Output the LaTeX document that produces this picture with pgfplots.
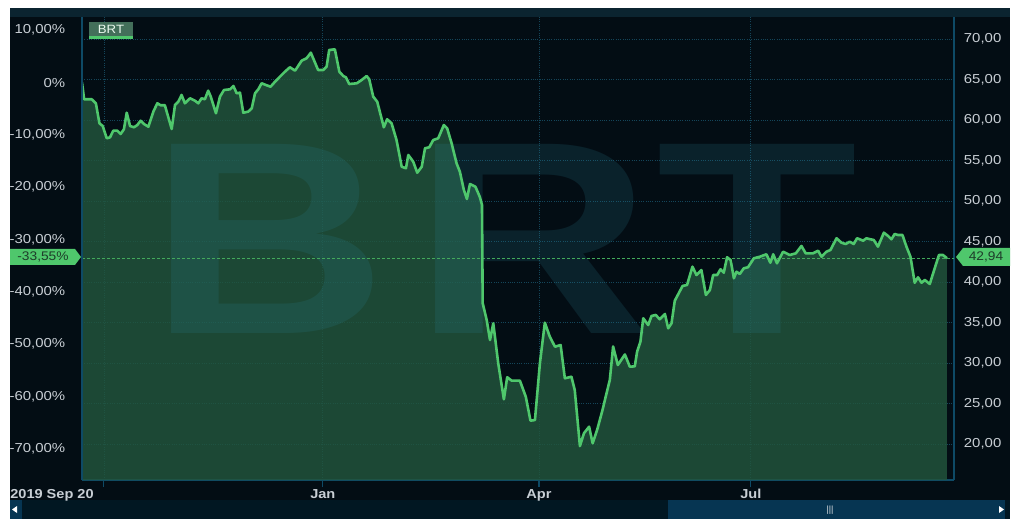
\documentclass[border=0pt]{standalone}
\usepackage{pgfplots}
\pgfplotsset{compat=1.18}
\usepackage{pgfplotstable}
\usepackage{fontspec}
\setmainfont{Liberation Sans}
\definecolor{bg}{HTML}{030D14}
\definecolor{topband}{HTML}{0B2430}
\definecolor{frame}{HTML}{0E4A66}
\definecolor{gridc}{HTML}{14465A}
\definecolor{lbl}{HTML}{C8CED4}
\definecolor{fillg}{HTML}{22563D}
\definecolor{lineg}{HTML}{4FC76C}
\definecolor{wm}{HTML}{2A8296}
\definecolor{scdark}{HTML}{011722}
\definecolor{sclight}{HTML}{063552}
\definecolor{tagtext}{HTML}{1E3D2A}

\pgfplotstableread{
day price
0 64.62
0.9 62.56
4.1 62.56
5.9 62.06
7.4 59.59
8.8 59.26
10.5 57.74
11.9 57.86
13.3 58.68
15.0 58.68
16.4 58.27
17.8 58.85
19.0 60.90
20.4 59.26
22.1 59.10
23.5 59.38
24.9 59.91
26.3 59.51
28.2 59.17
30.3 61.03
32.0 62.06
33.4 61.82
35.2 61.82
38.1 58.89
39.5 61.85
40.9 62.26
42.3 63.09
43.7 62.06
45.9 62.68
48.0 62.38
49.4 62.06
50.8 62.68
52.2 62.56
53.6 63.62
54.7 62.88
56.9 60.83
58.6 62.88
60.3 63.70
62.9 63.79
64.3 64.20
65.7 63.30
67.1 63.37
68.5 60.90
70.6 61.03
72.1 61.44
73.5 63.30
74.9 63.79
76.3 64.53
78.1 64.32
80.1 64.11
82.0 64.73
84.1 65.35
86.2 65.96
88.3 66.51
90.5 66.09
93.3 67.32
95.4 67.62
97.2 68.31
100.3 66.17
102.5 66.17
103.9 66.58
105.0 68.64
107.4 68.73
109.3 65.96
111.0 65.43
112.1 65.27
113.5 64.44
116.7 64.53
118.8 64.94
120.9 65.43
122.0 65.03
123.7 62.88
125.4 62.26
128.2 59.10
129.6 60.09
131.5 59.59
133.6 57.53
135.8 54.23
137.6 54.04
138.6 55.68
140.7 54.85
142.4 53.49
144.3 54.23
145.7 56.51
147.5 56.63
149.2 57.53
151.3 57.74
153.7 59.38
155.1 58.98
157.0 57.12
159.1 54.65
160.5 53.62
162.2 51.36
163.5 50.25
164.8 52.10
167.1 51.77
169.0 50.49
169.9 49.51
170.2 37.37
171.9 35.31
173.3 32.84
174.7 34.90
176.8 29.96
179.2 25.52
180.6 28.24
182.5 27.82
186.0 27.82
188.5 25.84
190.5 22.88
192.4 22.96
194.5 29.96
196.6 34.98
198.7 33.25
200.9 32.01
203.3 32.22
205.1 28.11
207.9 28.31
209.3 26.67
211.5 19.75
213.2 21.32
215.4 22.14
216.9 20.09
218.8 21.73
221.1 24.20
222.8 26.26
224.2 27.90
225.6 32.04
227.6 29.75
230.6 31.05
232.7 29.54
234.8 29.59
235.8 31.40
237.2 32.63
238.4 35.52
240.5 34.69
241.9 35.80
243.7 35.93
245.4 35.40
247.6 36.05
249.0 34.28
250.4 34.90
251.8 37.69
255.1 39.51
257.0 39.63
259.3 41.89
261.0 40.86
263.1 41.48
265.0 38.40
266.7 39.01
268.1 40.86
269.8 40.86
271.2 41.57
272.6 41.15
274.0 43.05
275.5 42.72
276.9 40.46
278.0 41.27
279.4 40.99
281.1 41.69
282.9 41.82
285.4 42.93
287.9 43.12
290.7 43.42
292.4 42.38
293.6 43.42
295.2 42.31
297.8 43.74
300.6 43.33
303.2 43.54
305.6 44.45
307.4 43.54
310.5 43.54
312.7 43.86
314.1 43.12
316.2 43.74
317.9 43.95
320.5 45.40
322.6 44.85
324.4 44.69
326.1 44.98
327.8 44.69
329.2 45.40
331.8 45.10
333.2 45.40
334.9 45.27
336.3 45.19
338.1 44.36
340.6 46.09
342.4 45.68
343.8 45.27
345.2 45.93
346.6 45.80
348.5 45.80
350.2 44.36
351.9 43.12
353.7 39.91
355.1 40.58
356.6 39.91
358.0 40.25
360.1 39.75
362.2 41.69
364.0 43.33
365.7 43.33
367.4 42.94
}\brtdata

\begin{document}
\begin{tikzpicture}[x=1pt,y=1pt]
% panel background
\fill[white] (0,0) rectangle (1016,519);
\fill[bg] (10,0) rectangle (1010,511);
\fill[topband] (10,502) rectangle (1010,511);
\fill[scdark] (10,0) rectangle (1010,19);
\fill[sclight] (668,0) rectangle (1005,19);
\fill[sclight] (10,0) rectangle (22,19);
\fill[white] (12,9.5) -- (17,13) -- (17,6) -- cycle;
\fill[white] (1004,9.5) -- (999,13) -- (999,6) -- cycle;
\node[text=lbl!70, font=\fontsize{9}{9}\selectfont] at (830,9) {|||};

% price axis (right)
\begin{axis}[
  at={(82pt,39pt)}, anchor=south west,
  width=872pt, height=463pt, scale only axis,
  xmin=0, xmax=370.4, ymin=15.556, ymax=72.716,
  axis x line*=bottom, axis y line*=right,
  axis line style={color=frame, line width=1.2pt, -},
  xtick={9.3,102.3,194.1,284.1},
  xticklabels={,Jan,Apr,Jul},
  x tick style={color=frame, line width=1.2pt},
  tick align=outside, major tick length=7pt,
  xticklabel style={font=\bfseries\fontsize{13}{15}\selectfont, text=lbl, xscale=1.12, yshift=1pt},
  ytick={20,25,...,70},
  yticklabels={{20,00},{25,00},{30,00},{35,00},{40,00},{45,00},{50,00},{55,00},{60,00},{65,00},{70,00}},
  y tick style={draw=none},
  yticklabel style={font=\fontsize{13}{15}\selectfont, text=lbl, anchor=west, xscale=1.15, xshift=-1pt},
  grid=major,
  grid style={color=gridc, line width=0.7pt, dash pattern=on 1pt off 1.3pt},
]
\addplot[draw=none, fill=fillg, fill opacity=0.82] table[x=day, y=price] {\brtdata} \closedcycle;
\node[text=wm, text opacity=0.18, inner sep=0pt, xscale=1.2,
      font=\bfseries\fontsize{275}{275}\selectfont] at (rel axis cs:0.2140,0.5216) {B};
\node[text=wm, text opacity=0.18, inner sep=0pt, xscale=1.2,
      font=\bfseries\fontsize{275}{275}\selectfont] at (rel axis cs:0.5170,0.5216) {R};
\node[text=wm, text opacity=0.18, inner sep=0pt, xscale=1.2,
      font=\bfseries\fontsize{275}{275}\selectfont] at (rel axis cs:0.7743,0.5216) {T};
\addplot[color=lineg!85!black, line width=0.9pt, dash pattern=on 3pt off 2pt] coordinates {(0,42.94) (370.4,42.94)};
\addplot[color=lineg, line width=2.6pt, line join=round] table[x=day, y=price] {\brtdata};
\end{axis}

% percent axis (left)
\begin{axis}[
  at={(82pt,39pt)}, anchor=south west,
  width=872pt, height=463pt, scale only axis,
  xmin=0, xmax=370.4, ymin=-75.927, ymax=12.529,
  axis x line=none, axis y line*=left,
  axis line style={color=frame, line width=1.2pt, -},
  ytick={-70,-60,...,10},
  yticklabels={{-70,00\%},{-60,00\%},{-50,00\%},{-40,00\%},{-30,00\%},{-20,00\%},{-10,00\%},{0\%},{10,00\%}},
  y tick style={draw=none},
  yticklabel style={font=\fontsize{13}{15}\selectfont, text=lbl, anchor=east, xscale=1.15, xshift=-11pt},
]
\addplot[draw=none] coordinates {(0,0)};
\end{axis}

% x start label
\node[font=\bfseries\fontsize{13}{15}\selectfont, text=lbl, xscale=1.12] at (52,24) {2019 Sep 20};

% legend box
\fill[fillg!85!white] (89,482) rectangle (133,497);
\fill[lineg] (89,479.5) rectangle (133,482.5);
\node[font=\fontsize{12}{14}\selectfont, text=white!88!lineg, xscale=1.1] at (111,489.5) {BRT};

% current value tags
\fill[lineg] (10,254) -- (75,254) -- (81,262) -- (75,270) -- (10,270) -- cycle;
\node[font=\fontsize{12.5}{14}\selectfont, text=tagtext, xscale=1.1] at (43,262) {-33,55\%};
\fill[lineg] (956,262) -- (963,253) -- (1010,253) -- (1010,271) -- (963,271) -- cycle;
\node[font=\fontsize{12.5}{14}\selectfont, text=tagtext, xscale=1.1] at (986,262) {42,94};
\end{tikzpicture}
\end{document}
